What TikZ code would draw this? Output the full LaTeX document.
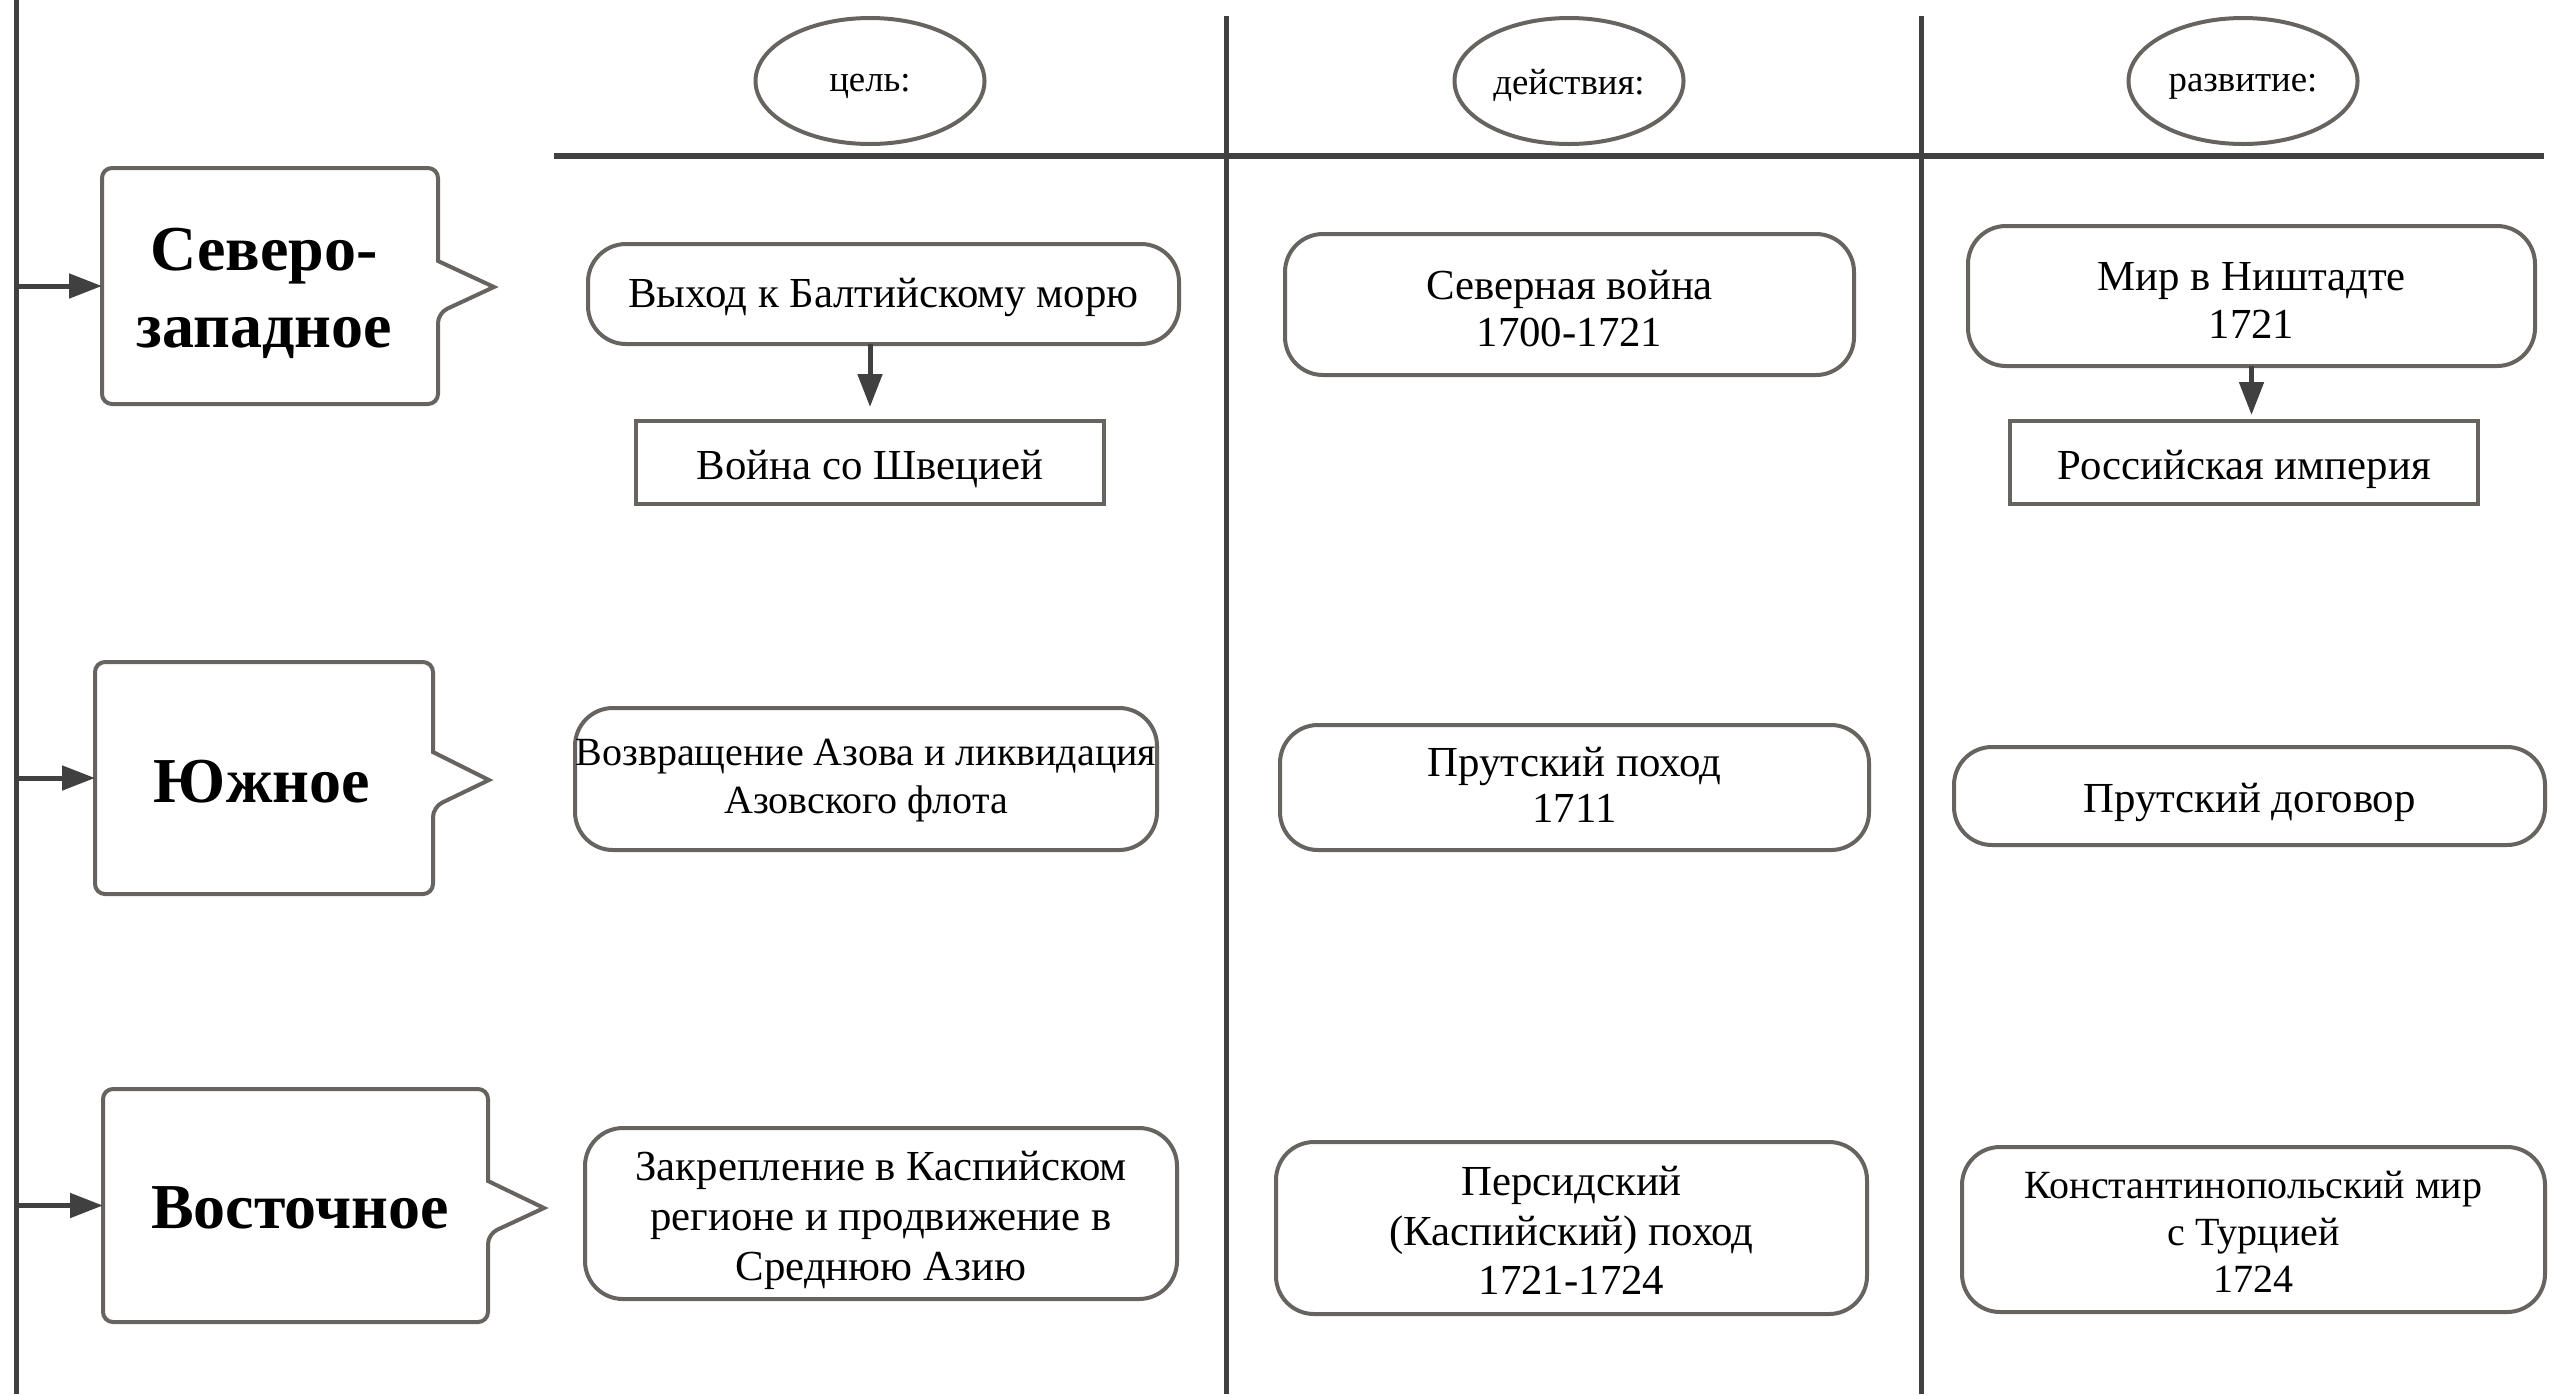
\documentclass[tikz,border=0pt]{standalone}
\usepackage{fontspec}
\setmainfont{Liberation Serif}
\usetikzlibrary{arrows.meta,shapes.geometric}
\definecolor{linec}{HTML}{404040}
\definecolor{boxc}{HTML}{67635F}
\begin{document}
\begin{tikzpicture}[x=0.25pt,y=-0.25pt,
  every node/.style={inner sep=0pt, outer sep=0pt},
  body/.style={font=\fontsize{10.7pt}{12pt}\selectfont, align=center},
  small/.style={font=\fontsize{10pt}{11.8pt}\selectfont, align=center},
  rbox/.style={draw=boxc, line width=1pt, rounded corners=9.5pt},
  sbox/.style={draw=boxc, line width=1pt},
  head/.style={draw=boxc, line width=1pt, ellipse, minimum width=57.25pt, minimum height=31.5pt},
  headtxt/.style={font=\fontsize{9.2pt}{11pt}\selectfont},
  lab/.style={font=\fontsize{16pt}{19.3pt}\selectfont\bfseries, align=center},
  callout/.style={draw=boxc, line width=1pt, line join=miter},
  arr/.style={draw=linec, line width=1.25pt, -{Triangle[length=8.25pt,width=6pt]}},
  rule/.style={draw=linec, line width=1.25pt},
]
\useasboundingbox (0,0) rectangle (2569,1394);

% frame lines
\coordinate (lx) at (16,0);
\draw[rule] (16,0) -- (16,1394);
\draw[rule] (1226,16) -- (1226,1394);
\draw[rule] (1921,16) -- (1921,1394);
\draw[draw=linec, line width=1.5pt] (554,156) -- (2544,156);

% column heads
\node[head] (h1) at (870,81) {};
\node[head] (h2) at (1569,81) {};
\node[head] (h3) at (2243,81) {};
\node[headtxt] (h1t) at ([yshift=-1.4pt]h1.center) {цель:};
\node[headtxt] (h2t) at ([yshift=-1.2pt]h2.center) {действия:};
\node[headtxt] (h3t) at ([yshift=-1.4pt]h3.center) {развитие:};

% callouts
\draw[callout] (438,261) [rounded corners=2.5pt] -- (438,168) -- (102,168) -- (102,404) -- (438,404) -- (438,313) [sharp corners] -- (494,287) -- cycle;
\draw[callout] (433,752) [rounded corners=2.5pt] -- (433,662) -- (95,662) -- (95,894) -- (433,894) -- (433,807) [sharp corners] -- (489,780) -- cycle;
\draw[callout] (488,1181) [rounded corners=2.5pt] -- (488,1089) -- (103,1089) -- (103,1322) -- (488,1322) -- (488,1234) [sharp corners] -- (544,1208) -- cycle;
\node[minimum width=84pt, minimum height=59pt] (nw) at (270,286) {};
\node[minimum width=84.5pt, minimum height=58pt] (so) at (264,778) {};
\node[minimum width=96.25pt, minimum height=58.25pt] (ea) at (295.5,1205.5) {};
\node[lab] (nwt) at (264,293) {Северо-\\западное};
\node[lab] (sot) at (262,782) {Южное};
\node[lab] (eat) at (300,1208) {Восточное};

\draw[arr] (lx |- nw.west) -- (nw.west);
\draw[arr] (lx |- so.west) -- (so.west);
\draw[arr] (lx |- ea.west) -- (ea.west);

% goals
\node[rbox, minimum width=147.75pt, minimum height=25pt] (goal1) at (883.5,294) {};
\node[sbox, minimum width=117pt, minimum height=20.75pt] (war) at (870,462.5) {};
\node[rbox, minimum width=145.5pt, minimum height=35.5pt] (goal2) at (866,779) {};
\node[rbox, minimum width=148pt, minimum height=42.75pt] (goal3) at (881,1213.5) {};
\node[body] (goal1t) at ([yshift=-0.8pt]goal1.center) {Выход к Балтийскому морю};
\node[body] (wart) at ([yshift=-1.6pt]war.center) {Война со Швецией};
\node[small] (goal2t) at ([yshift=-0.4pt]goal2.center) {Возвращение Азова и ликвидация\\Азовского флота};
\node[body, font=\fontsize{10.7pt}{12.5pt}\selectfont] (goal3t) at ([yshift=-1.6pt]goal3.center) {Закрепление в Каспийском\\регионе и продвижение в\\Среднюю Азию};

% actions
\node[rbox, minimum width=142.25pt, minimum height=35.25pt] (act1) at (1569.5,304.5) {};
\node[rbox, minimum width=147.25pt, minimum height=31.25pt] (act2) at (1574.5,787.5) {};
\node[rbox, minimum width=147.75pt, minimum height=43pt] (act3) at (1571.5,1228) {};
\node[body, font=\fontsize{10.7pt}{11.6pt}\selectfont] (act1t) at ([yshift=-1pt]act1.center) {Северная война\\1700-1721};
\node[body, font=\fontsize{10.7pt}{11.6pt}\selectfont] (act2t) at ([yshift=0.6pt]act2.center) {Прутский поход\\1711};
\node[body, font=\fontsize{10.7pt}{12.3pt}\selectfont] (act3t) at ([yshift=-0.6pt]act3.center) {Персидский\\(Каспийский) поход\\1721-1724};

% results
\node[rbox, minimum width=141.75pt, minimum height=35pt] (res1) at (2251.5,296) {};
\node[sbox, minimum width=117pt, minimum height=20.75pt] (emp) at (2244,462.5) {};
\node[rbox, minimum width=147.75pt, minimum height=24.5pt] (res2) at (2249.5,796) {};
\node[rbox, minimum width=145.75pt, minimum height=41.25pt] (res3) at (2253.5,1229.5) {};
\node[body] (res1t) at ([yshift=-1pt]res1.center) {Мир в Ништадте\\1721};
\node[body] (empt) at ([yshift=-1.6pt]emp.center) {Российская империя};
\node[body] (res2t) at ([yshift=-1.6pt]res2.center) {Прутский договор};
\node[small] (res3t) at ([yshift=-0.6pt]res3.center) {Константинопольский мир\\с Турцией\\1724};

\draw[arr, shorten >=3.5pt] (war.north |- goal1.south) -- (war.north);
\draw[arr, shorten >=1.5pt] (res1.south) -- (res1.south |- emp.north);
\end{tikzpicture}
\end{document}
